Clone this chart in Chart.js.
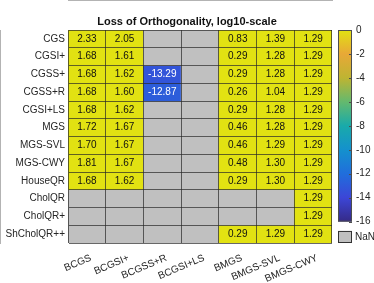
<!DOCTYPE html>
<html>
<head>
<meta charset="utf-8">
<script src="https://cdn.jsdelivr.net/npm/chart.js@4/dist/chart.umd.min.js"></script>
<style>
	html, body { margin: 0; padding: 0; background: #fff; }
	#wrap { width: 374px; height: 283px; }
</style>
</head>
<body>
<div id="wrap"><canvas id="heat" width="374" height="283"></canvas></div>
<script>
const rows = ["CGS", "CGSI+", "CGSS+", "CGSS+R", "CGSI+LS", "MGS", "MGS-SVL", "MGS-CWY", "HouseQR", "CholQR", "CholQR+", "ShCholQR++"];
const cols = ["BCGS", "BCGSI+", "BCGSS+R", "BCGSI+LS", "BMGS", "BMGS-SVL", "BMGS-CWY"];

// one array per column, top to bottom; null = NaN
const bcgs     = [2.33, 1.68, 1.68, 1.68, 1.68, 1.72, 1.70, 1.81, 1.68, null, null, null];
const bcgsi    = [2.05, 1.61, 1.62, 1.60, 1.62, 1.67, 1.67, 1.67, 1.62, null, null, null];
const bcgssR   = [null, null, -13.29, -12.87, null, null, null, null, null, null, null, null];
const bcgsiLS  = [null, null, null, null, null, null, null, null, null, null, null, null];
const bmgs     = [0.83, 0.29, 0.29, 0.26, 0.29, 0.46, 0.46, 0.48, 0.29, null, null, 0.29];
const bmgsSVL  = [1.39, 1.28, 1.28, 1.04, 1.28, 1.28, 1.29, 1.30, 1.30, null, null, 1.29];
const bmgsCWY  = [1.29, 1.29, 1.29, 1.29, 1.29, 1.29, 1.29, 1.29, 1.29, 1.29, 1.29, 1.29];
const columns = [bcgs, bcgsi, bcgssR, bcgsiLS, bmgs, bmgsSVL, bmgsCWY];

const cbTicks = [0, -2, -4, -6, -8, -10, -12, -14, -16];
const cbLow = -16;
const cbHigh = 0;

const font = "'Liberation Sans', Arial, sans-serif";
const gridColor = "rgba(40,40,40,0.7)";
const nanColor = "#c0c0c0";

// parula-like map as seen in the picture
const parula = [
	[0.000, 53, 42, 135],
	[0.125, 60, 70, 215],
	[0.250, 32, 110, 220],
	[0.375, 20, 145, 205],
	[0.500, 25, 170, 170],
	[0.625, 100, 185, 110],
	[0.750, 190, 180, 50],
	[0.875, 232, 168, 55],
	[1.000, 226, 226, 18]
];

function mapColor(t) {
	t = Math.max(0, Math.min(1, t));
	for (let i = 1; i < parula.length; i++) {
		if (t <= parula[i][0]) {
			const a = parula[i - 1], b = parula[i];
			const f = (t - a[0]) / (b[0] - a[0]);
			const c = [1, 2, 3].map(k => Math.round(a[k] + (b[k] - a[k]) * f));
			return `rgb(${c[0]},${c[1]},${c[2]})`;
		}
	}
	return "rgb(226,226,18)";
}

function cellColor(v) {
	if (v === null) return nanColor;
	return mapColor((v - cbLow) / (cbHigh - cbLow));
}

const datasets = rows.map((name, r) => ({
	label: name,
	yAxisID: "y",
	data: cols.map(() => [r, r + 1]),
	backgroundColor: cols.map((c, ci) => cellColor(columns[ci][r])),
	borderWidth: 0,
	barPercentage: 1,
	categoryPercentage: 1,
	grouped: false
}));

const cellText = {
	id: "cellText",
	afterDatasetsDraw(chart) {
		const ctx = chart.ctx;
		ctx.save();
		ctx.font = "10px " + font;
		ctx.textAlign = "center";
		ctx.textBaseline = "middle";
		chart.data.datasets.forEach((ds, r) => {
			chart.getDatasetMeta(r).data.forEach((bar, ci) => {
				const v = columns[ci][r];
				if (v === null) return;
				ctx.fillStyle = v < -8 ? "#ffffff" : "#111111";
				ctx.fillText(v.toFixed(2), bar.x, (bar.y + bar.base) / 2);
			});
		});
		ctx.restore();
	}
};

const colorbar = {
	id: "colorbar",
	afterDraw(chart) {
		const cb = chart.scales.cb;
		const ctx = chart.ctx;
		const x = cb.left + 6;
		const w = 14;
		const top = cb.getPixelForValue(cbHigh);
		const bot = cb.getPixelForValue(cbLow);
		ctx.save();
		const g = ctx.createLinearGradient(0, bot, 0, top);
		parula.forEach(s => g.addColorStop(s[0], `rgb(${s[1]},${s[2]},${s[3]})`));
		ctx.fillStyle = g;
		ctx.fillRect(x, top, w, bot - top);
		ctx.strokeStyle = "#4d4d4d";
		ctx.lineWidth = 1;
		ctx.strokeRect(x + 0.5, top + 0.5, w - 1, bot - top - 1);
		ctx.beginPath();
		cbTicks.forEach(v => {
			const y = Math.round(cb.getPixelForValue(v)) + 0.5;
			ctx.moveTo(x + w - 3, y);
			ctx.lineTo(x + w, y);
		});
		ctx.stroke();
		// NaN swatch
		const nTop = cb.getPixelForValue(-16.78);
		const nBot = cb.getPixelForValue(cb.min);
		ctx.fillStyle = nanColor;
		ctx.fillRect(x, nTop, w, nBot - nTop);
		ctx.strokeStyle = "#333333";
		ctx.strokeRect(x + 0.5, nTop + 0.5, w - 1, nBot - nTop - 1);
		ctx.fillStyle = "#262626";
		ctx.font = "10px " + font;
		ctx.textBaseline = "middle";
		ctx.textAlign = "left";
		ctx.fillText("NaN", x + w + 3, (nTop + nBot) / 2);
		ctx.restore();
	}
};

new Chart(document.getElementById("heat"), {
	type: "bar",
	data: { labels: cols, datasets: datasets },
	plugins: [cellText, colorbar],
	options: {
		responsive: false,
		animation: false,
		devicePixelRatio: 1,
		layout: { padding: 0 },
		plugins: {
			legend: { display: false },
			tooltip: { enabled: false },
			title: {
				display: true,
				text: "Loss of Orthogonality, log10-scale",
				color: "#111111",
				font: { family: font, size: 11, weight: "bold" },
				padding: { top: 0, bottom: 1 }
			}
		},
		scales: {
			x: {
				type: "category",
				grid: { offset: true, color: gridColor, z: 1, drawTicks: false },
				border: { color: gridColor },
				ticks: { autoSkip: false, minRotation: 23, maxRotation: 23, padding: 9, labelOffset: 4, color: "#262626", font: { family: font, size: 10 } },
				afterFit(s) { s.height = 40; }
			},
			y: {
				type: "linear",
				min: 0,
				max: rows.length,
				reverse: true,
				afterBuildTicks(s) { s.ticks = rows.map((n, i) => ({ value: i + 0.5 })); },
				grid: { offset: true, color: gridColor, z: 1, drawTicks: false },
				border: { color: gridColor },
				ticks: { autoSkip: false, padding: 3, color: "#262626", font: { family: font, size: 10 }, callback: (v, i) => rows[i] },
				afterFit(s) { s.width = 68; }
			},
			cb: {
				type: "linear",
				position: "right",
				min: -17.786,
				max: 0,
				afterBuildTicks(s) { s.ticks = cbTicks.map(v => ({ value: v })); },
				grid: { display: false, drawTicks: false },
				border: { display: false },
				ticks: { autoSkip: false, padding: 24, color: "#262626", font: { family: font, size: 10 } },
				afterFit(s) { s.width = 42; }
			}
		}
	}
});
</script>
</body>
</html>
